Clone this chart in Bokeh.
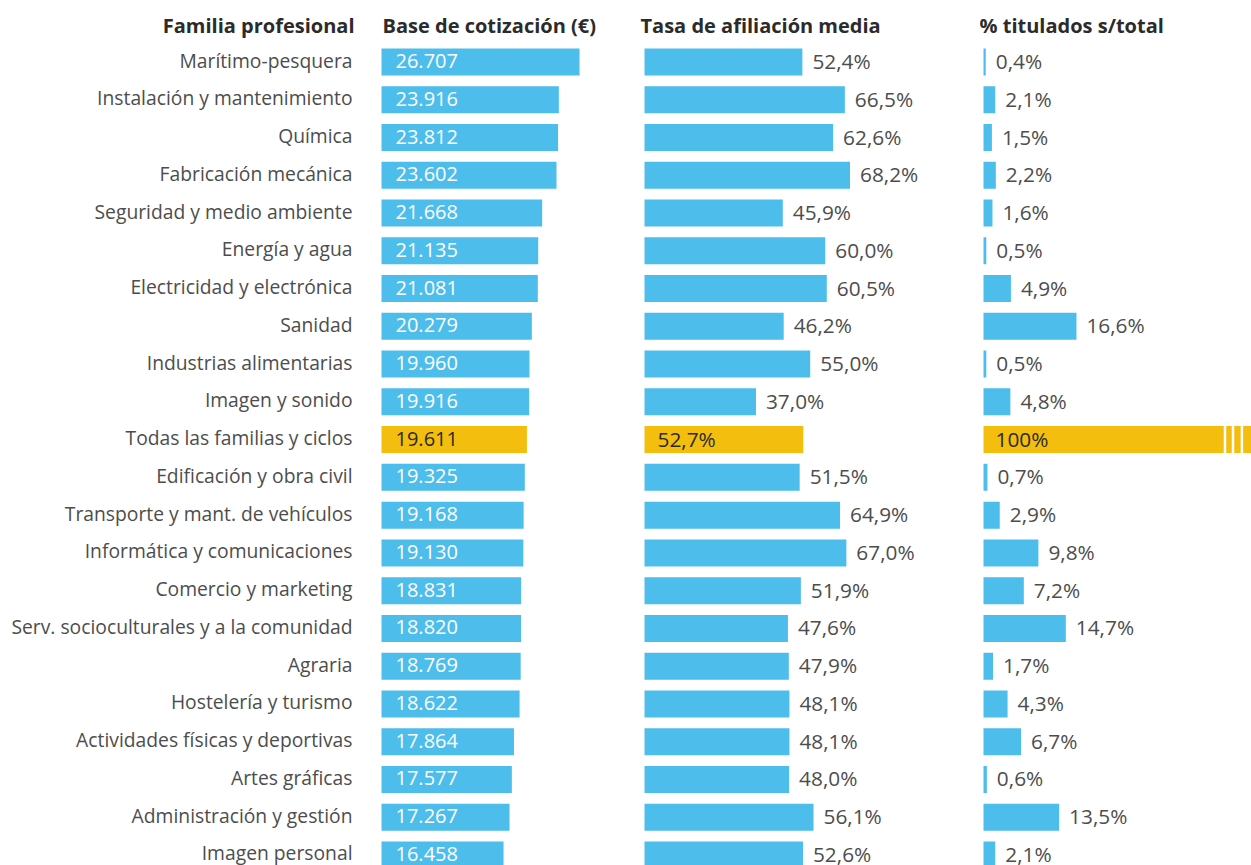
from bokeh.plotting import figure
from bokeh.layouts import row
from bokeh.models import Range1d, ColumnDataSource
from bokeh.core.properties import value
from bokeh.embed import file_html
from bokeh.resources import INLINE

familias = ["Marítimo-pesquera", "Instalación y mantenimiento", "Química", "Fabricación mecánica",
            "Seguridad y medio ambiente", "Energía y agua", "Electricidad y electrónica", "Sanidad",
            "Industrias alimentarias", "Imagen y sonido", "Todas las familias y ciclos",
            "Edificación y obra civil", "Transporte y mant. de vehículos", "Informática y comunicaciones",
            "Comercio y marketing", "Serv. socioculturales y a la comunidad", "Agraria",
            "Hostelería y turismo", "Actividades físicas y deportivas", "Artes gráficas",
            "Administración y gestión", "Imagen personal"]
base_cotizacion = [26707, 23916, 23812, 23602, 21668, 21135, 21081, 20279, 19960, 19916, 19611,
                   19325, 19168, 19130, 18831, 18820, 18769, 18622, 17864, 17577, 17267, 16458]
tasa_afiliacion = [52.4, 66.5, 62.6, 68.2, 45.9, 60.0, 60.5, 46.2, 55.0, 37.0, 52.7,
                   51.5, 64.9, 67.0, 51.9, 47.6, 47.9, 48.1, 48.1, 48.0, 56.1, 52.6]
pct_titulados = [0.4, 2.1, 1.5, 2.2, 1.6, 0.5, 4.9, 16.6, 0.5, 4.8, 100,
                 0.7, 2.9, 9.8, 7.2, 14.7, 1.7, 4.3, 6.7, 0.6, 13.5, 2.1]
headers = ["Familia profesional", "Base de cotización (€)", "Tasa de afiliación media", "% titulados s/total"]
total_label = "Todas las familias y ciclos"

BLUE = "#4DBDEC"
YELLOW = "#F3BE0E"
GREY = "#4D4D4D"
DARK = "#2B2B2B"
FONT = "Open Sans"
FS_LAB = "19.3px"
FS_NUM = "20px"
FS_PCT = "20.8px"
FS_HEAD = "20px"
H = 865
BAR_H = 0.715

n = len(familias)
ys = list(range(n))
is_total = [f == total_label for f in familias]
colors = [YELLOW if t else BLUE for t in is_total]

y_range = Range1d(start=21.279, end=-1.629)
HEADER_Y = -0.967


def make_fig(width, x0, x1):
    p = figure(width=width, height=H, x_range=Range1d(x0, x1), y_range=y_range,
               output_backend="svg", toolbar_location=None, min_border=0,
               outline_line_color=None, background_fill_color="white")
    p.axis.visible = False
    p.grid.visible = False
    return p


def fmt_thousands(v):
    return f"{v:,}".replace(",", ".")


def fmt_pct(v):
    if v == int(v) and v >= 100:
        return f"{int(v)}%"
    return f"{v:.1f}".replace(".", ",") + "%"


# Label column
pl = make_fig(370, 0, 370)
pl.text(x=[352] * n, y=ys, text=familias, text_align="right", text_baseline="middle",
        y_offset=-2, text_font=value(FONT), text_font_size=FS_LAB, text_color=GREY)
pl.text(x=[354], y=[HEADER_Y], text=[headers[0]], text_align="right", text_baseline="middle",
        text_font=value(FONT), text_font_size=FS_HEAD, text_font_style="bold", text_color=DARK)

# Column 1: base de cotización
s1 = 0.007415  # px per euro
p1 = make_fig(260, (370 - 381) / s1, (630 - 381) / s1)
src1 = ColumnDataSource(dict(y=ys, v=base_cotizacion, c=colors,
                             lab=[fmt_thousands(v) for v in base_cotizacion],
                             tc=[DARK if t else "white" for t in is_total]))
p1.hbar(y="y", left=0, right="v", height=BAR_H, fill_color="c", line_color=None, source=src1)
p1.text(x=0, y="y", text="lab", x_offset=14, y_offset=-1, text_baseline="middle", text_font=value(FONT),
        text_font_size=FS_NUM, text_color="tc", source=src1)
p1.text(x=[(382 - 381) / s1], y=[HEADER_Y], text=[headers[1]], text_baseline="middle",
        text_font=value(FONT), text_font_size=FS_HEAD, text_font_style="bold", text_color=DARK)

# Column 2: tasa de afiliación
s2 = 3.013
p2 = make_fig(340, (630 - 644) / s2, (970 - 644) / s2)
lab2 = [fmt_pct(v) for v in tasa_afiliacion]
src2 = ColumnDataSource(dict(y=[y for y, t in zip(ys, is_total) if not t],
                             v=[v for v, t in zip(tasa_afiliacion, is_total) if not t],
                             lab=[l for l, t in zip(lab2, is_total) if not t]))
src2t = ColumnDataSource(dict(y=[y for y, t in zip(ys, is_total) if t],
                              v=[v for v, t in zip(tasa_afiliacion, is_total) if t],
                              lab=[l for l, t in zip(lab2, is_total) if t]))
p2.hbar(y="y", left=0, right="v", height=BAR_H, fill_color=BLUE, line_color=None, source=src2)
p2.hbar(y="y", left=0, right="v", height=BAR_H, fill_color=YELLOW, line_color=None, source=src2t)
p2.text(x="v", y="y", text="lab", x_offset=10, y_offset=-1, text_baseline="middle", text_font=value(FONT),
        text_font_size=FS_PCT, text_color=GREY, source=src2)
p2.text(x=0, y="y", text="lab", x_offset=13, y_offset=-1, text_baseline="middle", text_font=value(FONT),
        text_font_size=FS_PCT, text_color=DARK, source=src2t)
p2.text(x=[(640 - 644) / s2], y=[HEADER_Y], text=[headers[2]], text_baseline="middle",
        text_font=value(FONT), text_font_size=FS_HEAD, text_font_style="bold", text_color=DARK)

# Column 3: % titulados
s3 = 5.6
x3_end = (1251 - 983) / s3
p3 = make_fig(281, (970 - 983) / s3, x3_end)
lab3 = [fmt_pct(v) for v in pct_titulados]
src3 = ColumnDataSource(dict(y=[y for y, t in zip(ys, is_total) if not t],
                             v=[v for v, t in zip(pct_titulados, is_total) if not t],
                             lab=[l for l, t in zip(lab3, is_total) if not t]))
src3t = ColumnDataSource(dict(y=[y for y, t in zip(ys, is_total) if t],
                              v=[v for v, t in zip(pct_titulados, is_total) if t],
                              lab=[l for l, t in zip(lab3, is_total) if t]))
p3.hbar(y="y", left=0, right="v", height=BAR_H, fill_color=BLUE, line_color=None, source=src3)
p3.hbar(y="y", left=0, right="v", height=BAR_H, fill_color=YELLOW, line_color=None, source=src3t)
# break marks on the truncated 100% bar
ty = src3t.data["y"][0]
brk = [x3_end - d / s3 for d in (26.5, 18.5, 9.6)]
p3.segment(x0=brk, x1=brk, y0=[ty - BAR_H / 2] * 3, y1=[ty + BAR_H / 2] * 3,
           line_color="white", line_width=2.5)
p3.text(x="v", y="y", text="lab", x_offset=10, y_offset=-1, text_baseline="middle", text_font=value(FONT),
        text_font_size=FS_PCT, text_color=GREY, source=src3)
p3.text(x=0, y="y", text="lab", x_offset=12, y_offset=-1, text_baseline="middle", text_font=value(FONT),
        text_font_size=FS_PCT, text_color=DARK, source=src3t)
p3.text(x=[(979 - 983) / s3], y=[HEADER_Y], text=[headers[3]], text_baseline="middle",
        text_font=value(FONT), text_font_size=FS_HEAD, text_font_style="bold", text_color=DARK)

layout = row(pl, p1, p2, p3, spacing=0)
open("out.html", "w").write(file_html(layout, INLINE))
